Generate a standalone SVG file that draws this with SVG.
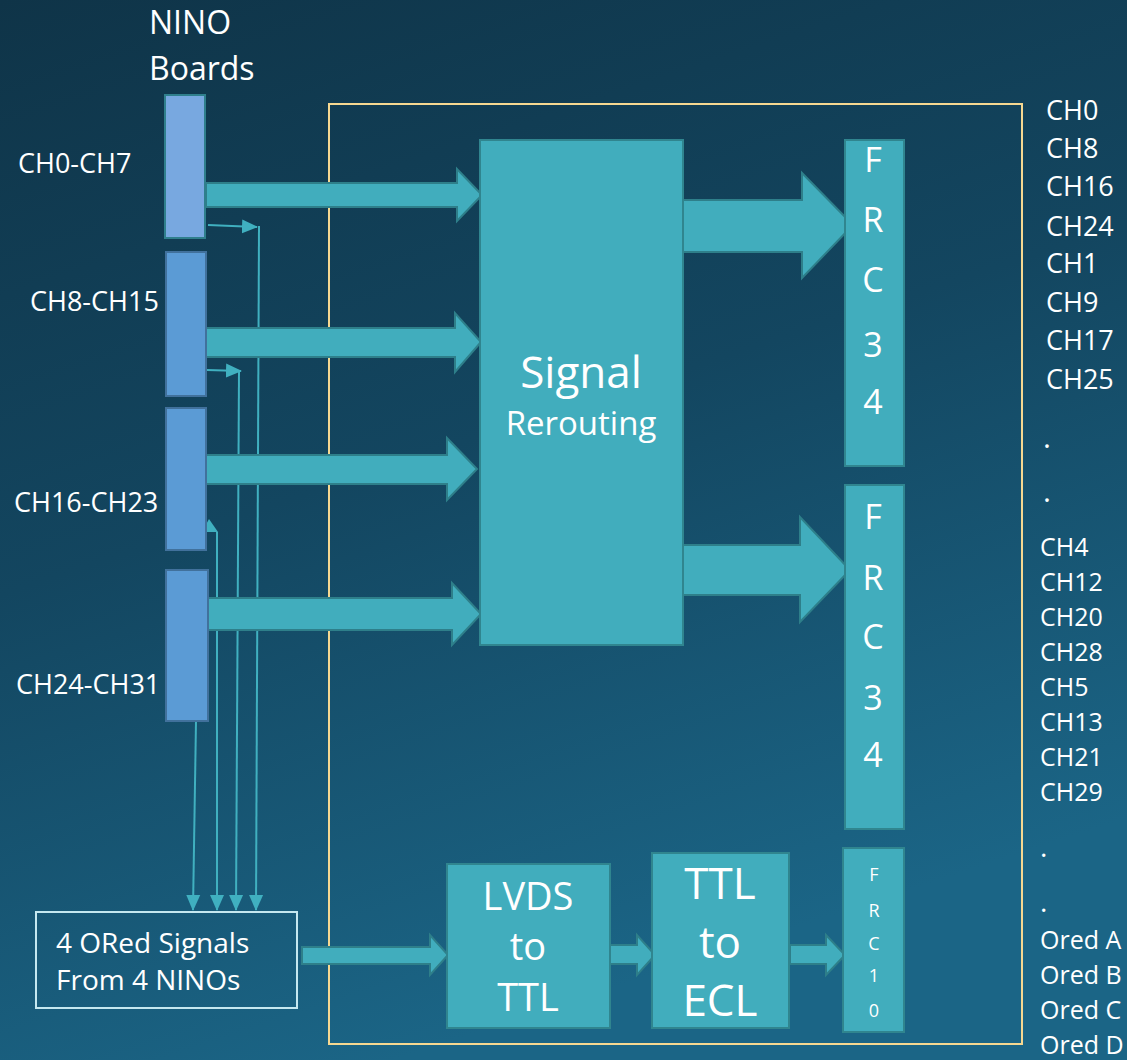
<svg xmlns="http://www.w3.org/2000/svg" width="1127" height="1060" viewBox="0 0 1127 1060">
<defs>
<linearGradient id="bg" x1="0" y1="0" x2="0.35" y2="1">
<stop offset="0" stop-color="#0f3448"/>
<stop offset="0.5" stop-color="#134660"/>
<stop offset="1" stop-color="#1b6586"/>
</linearGradient>
<marker id="ah" markerUnits="userSpaceOnUse" markerWidth="16" markerHeight="16" viewBox="0 0 16 16" refX="15" refY="8" orient="auto">
<path d="M0,1 L16,8 L0,15 Z" fill="#40b0c0"/>
</marker>
<style>
.t{font-family:"Open Sans","Noto Sans","Liberation Sans",sans-serif;fill:#ffffff}
.blk{fill:#41adbd;stroke:#30858f;stroke-width:2}
.arr{fill:#41adbd;stroke:#2e7f8a;stroke-width:2}
.thin{fill:none;stroke:#40b0c0;stroke-width:2;marker-end:url(#ah)}
.brd{fill:#5b9bd5;stroke:#41719c;stroke-width:2}
</style>
</defs>
<rect width="1127" height="1060" fill="url(#bg)"/>

<g id="frame"><rect x="329" y="104" width="693" height="940" fill="none" stroke="#f6d891" stroke-width="2"/></g>

<g id="title"><text class="t" x="149" y="34" font-size="32">NINO</text><text class="t" x="149" y="80" font-size="32">Boards</text></g>

<g id="connectors">
<line class="thin" x1="208" y1="225" x2="257" y2="227"/>
<line class="thin" x1="259" y1="226" x2="256" y2="910"/>
<line class="thin" x1="207" y1="370" x2="241" y2="371"/>
<line class="thin" x1="239" y1="371" x2="236" y2="910"/>
<line class="thin" x1="217" y1="532" x2="217" y2="910"/>
<path d="M209,519 L202,532 L218,532 Z" fill="#40b0c0"/>
<line class="thin" x1="196" y1="721" x2="193" y2="910"/>
<path class="arr" d="M206,183 H457 V169 L482,195 L457,221 V207 H206 Z"/>
<path class="arr" d="M206,328 H455 V313 L481,342 L455,372 V357 H206 Z"/>
<path class="arr" d="M200,455 H447 V438 L477,469 L447,500 V484 H200 Z"/>
<path class="arr" d="M206,598 H452 V583 L481,614 L452,645 V630 H206 Z"/>
<path class="arr" d="M683,200 H802 V173 L853,225 L802,278 V252 H683 Z"/>
<path class="arr" d="M683,545 H800 V517 L850,570 L800,622 V595 H683 Z"/>
<path class="arr" d="M302,947 H430 V935 L448,955 L430,975 V964 H302 Z"/>
<path class="arr" d="M609,945 H637 V935 L655,955 L637,975 V964 H609 Z"/>
<path class="arr" d="M790,945 H826 V935 L845,955 L826,975 V964 H790 Z"/>
</g>

<g id="board1"><rect x="165" y="95" width="40" height="143" fill="#78a8e0" stroke="#2f7f8c" stroke-width="2"/><text class="t" x="18" y="173" font-size="27">CH0-CH7</text></g>
<g id="board2"><rect class="brd" x="166" y="252" width="40" height="144"/><text class="t" x="30" y="311" font-size="27">CH8-CH15</text></g>
<g id="board3"><rect class="brd" x="166" y="408" width="40" height="142"/><text class="t" x="14" y="512" font-size="27">CH16-CH23</text></g>
<g id="board4"><rect class="brd" x="166" y="570" width="42" height="151"/><text class="t" x="16" y="694" font-size="27">CH24-CH31</text></g>

<g id="rerouting"><rect class="blk" x="480" y="140" width="203" height="505"/>
<text class="t" x="581" y="388" font-size="44" text-anchor="middle">Signal</text>
<text class="t" x="581" y="435" font-size="33" text-anchor="middle">Rerouting</text></g>

<g id="frc34a"><rect class="blk" x="845" y="140" width="59" height="326"/>
<g class="t" font-size="34" text-anchor="middle"><text x="873" y="172">F</text><text x="873" y="232">R</text><text x="873" y="292">C</text><text x="873" y="357">3</text><text x="873" y="414">4</text></g></g>

<g id="frc34b"><rect class="blk" x="845" y="485" width="59" height="344"/>
<g class="t" font-size="34" text-anchor="middle"><text x="873" y="529">F</text><text x="873" y="590">R</text><text x="873" y="649">C</text><text x="873" y="710">3</text><text x="873" y="767">4</text></g></g>

<g id="frc10"><rect class="blk" x="843" y="848" width="61" height="184"/>
<g class="t" font-size="18" text-anchor="middle"><text x="874" y="881">F</text><text x="874" y="917">R</text><text x="874" y="950">C</text><text x="874" y="982">1</text><text x="874" y="1017">0</text></g></g>

<g id="ored"><rect x="36" y="912" width="261" height="96" fill="none" stroke="#c5e8f0" stroke-width="2"/>
<text class="t" x="56" y="953" font-size="28">4 ORed Signals</text>
<text class="t" x="56" y="990" font-size="28">From 4 NINOs</text></g>

<g id="lvds"><rect class="blk" x="447" y="864" width="163" height="164"/>
<g class="t" font-size="38" text-anchor="middle"><text x="528" y="910">LVDS</text><text x="528" y="960">to</text><text x="528" y="1011">TTL</text></g></g>

<g id="ttlecl"><rect class="blk" x="652" y="853" width="137" height="175"/>
<g class="t" font-size="44" text-anchor="middle"><text x="720" y="899">TTL</text><text x="720" y="958">to</text><text x="720" y="1016">ECL</text></g></g>

<g id="outlabels" class="t" font-size="27">
<text x="1046" y="120">CH0</text><text x="1046" y="158">CH8</text><text x="1046" y="196">CH16</text><text x="1046" y="236">CH24</text>
<text x="1046" y="273">CH1</text><text x="1046" y="312">CH9</text><text x="1046" y="350">CH17</text><text x="1046" y="389">CH25</text>
<text x="1043" y="448" font-size="30">.</text><text x="1043" y="502" font-size="30">.</text>
</g>
<g id="outlabels2" class="t" font-size="25">
<text x="1040" y="556">CH4</text><text x="1040" y="591">CH12</text><text x="1040" y="626">CH20</text><text x="1040" y="661">CH28</text>
<text x="1040" y="696">CH5</text><text x="1040" y="731">CH13</text><text x="1040" y="766">CH21</text><text x="1040" y="801">CH29</text>
<text x="1040" y="857" font-size="28">.</text><text x="1040" y="912" font-size="28">.</text>
<text x="1040" y="949">Ored A</text><text x="1040" y="984">Ored B</text><text x="1040" y="1019">Ored C</text><text x="1040" y="1054">Ored D</text>
</g>
</svg>
